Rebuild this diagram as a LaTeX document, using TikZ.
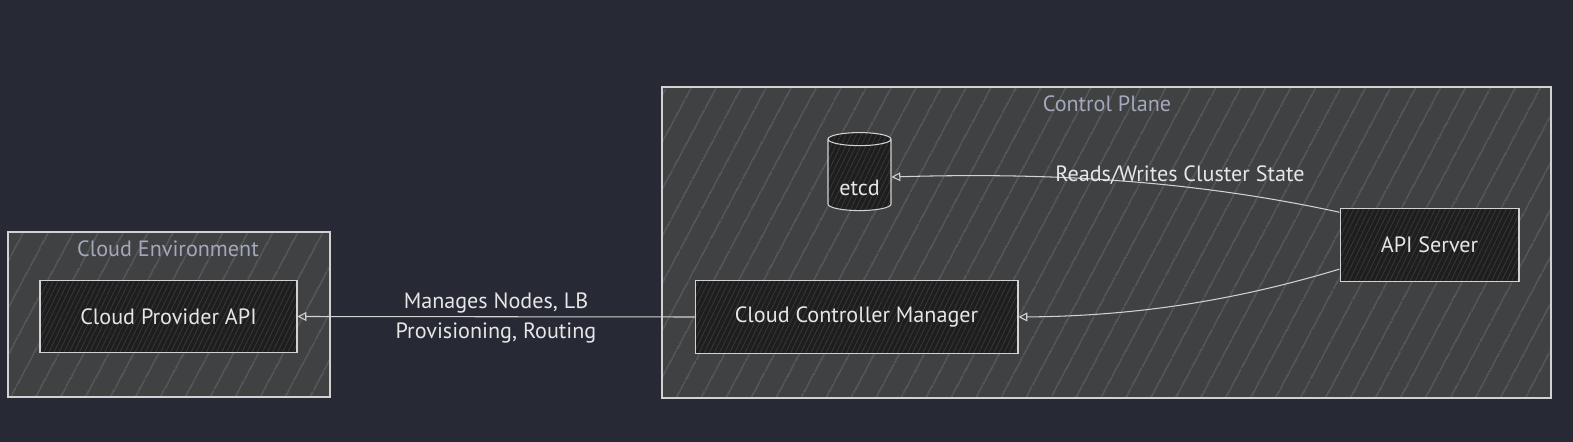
\documentclass[tikz,border=0pt]{standalone}
\usepackage{fontspec}
\setmainfont{PT Sans}
\usetikzlibrary{positioning, shapes.geometric, arrows.meta, patterns.meta}
\definecolor{cbg}{HTML}{272935}
\definecolor{cclust}{HTML}{404142}
\definecolor{cchatch}{HTML}{33343F}
\definecolor{cnode}{HTML}{1E1E1E}
\definecolor{cnhatch}{HTML}{3A3A3A}
\definecolor{cline}{HTML}{D2D2D2}
\definecolor{ctitle}{HTML}{A4A8BB}
\definecolor{ctext}{HTML}{E6E6E6}

\begin{document}
\begin{tikzpicture}[
  x=0.02cm, y=-0.02cm,
  font=\fontsize{12.6}{15}\selectfont,
  cluster/.style={
    preaction={fill=cclust},
    pattern={Lines[angle=62, distance=13pt, line width=0.25pt]}, pattern color=cchatch,
    draw=cline, line width=0.6pt
  },
  box/.style={
    preaction={fill=cnode},
    pattern={Lines[angle=64, distance=2.6pt, line width=0.4pt]}, pattern color=cnhatch,
    draw=cline, line width=0.6pt, text=ctext,
    minimum width=#1, minimum height=1.45cm
  },
  db/.style={
    cylinder, shape border rotate=90, aspect=0.25,
    preaction={fill=cnode},
    pattern={Lines[angle=64, distance=2.6pt, line width=0.4pt]}, pattern color=cnhatch,
    draw=cline, line width=0.6pt, text=ctext,
    minimum width=1.26cm, minimum height=1.56cm
  },
  ctitle/.style={text=ctitle},
  elabel/.style={text=ctext, align=center},
  edge/.style={draw=cline, line width=0.6pt, -{Triangle[open, length=5pt, width=5pt]}}
]

% background and page size
\fill[cbg] (0,0) rectangle (1573,442);
\useasboundingbox (0,0) rectangle (1573,442);

% ============================================================
% Cloud Environment cluster
% ============================================================
\draw[cluster] (8,232) rectangle (330,397);
\node[ctitle] (envtitle) at (168,249) {Cloud Environment};

\node[box=5.14cm] (cpa) at (168.5,316.5) {Cloud Provider API};

% ============================================================
% Control Plane cluster
% ============================================================
\draw[cluster] (662,87) rectangle (1551,398);
\node[ctitle] (planetitle) at (1107,104) {Control Plane};

\node[db] (etcd) at (859.5,177) {\raisebox{-6pt}[\height][0pt]{etcd}};
\node[box=3.58cm] (api) at (1429.5,245) {API Server};
\node[box=6.46cm] (ccm) at (856.5,317) {Cloud Controller Manager};

% Connectors
\draw[edge] (api.160) .. controls (1200,182) and (1060,172) .. (etcd.east);
\node[elabel] (lblstate) at (1180,175) {Reads/Writes Cluster State};

\draw[edge] (api.195) .. controls (1250,296) and (1150,316) .. (ccm.east);

\draw[edge] (ccm.west) -- (cpa.east);
\node[elabel, font=\fontsize{12.6}{17.6}\selectfont] (lblmanage) at (496,318)
  {Manages Nodes, LB\\Provisioning, Routing};

\end{tikzpicture}
\end{document}
